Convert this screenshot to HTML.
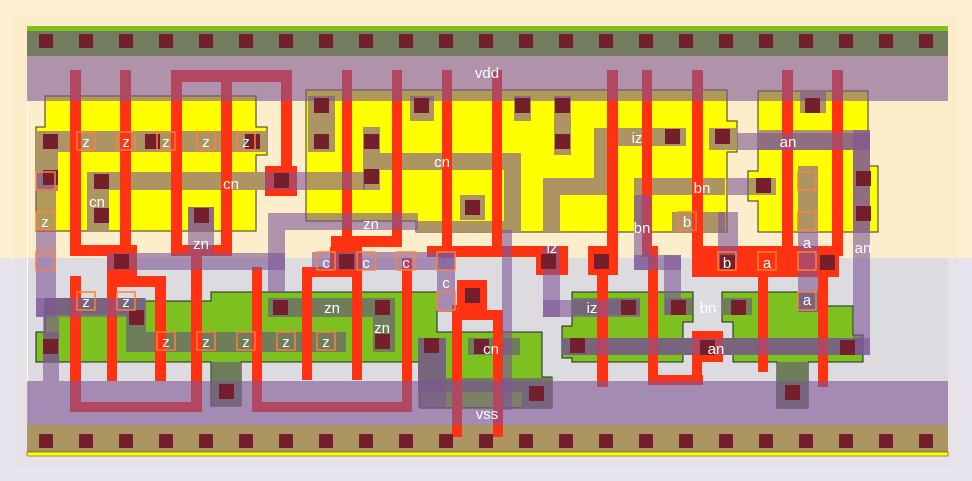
<!DOCTYPE html>
<html><head><meta charset="utf-8"><style>
html,body{margin:0;padding:0;width:972px;height:481px;overflow:hidden;background:#e8e4ee}
svg{display:block}
text{font-family:"Liberation Sans",sans-serif;font-size:15px;fill:#fff}
</style></head><body>
<svg width="972" height="481" viewBox="0 0 972 481" xmlns="http://www.w3.org/2000/svg">
<rect x="0" y="0" width="972" height="258" fill="#fdf0d2"/>
<rect x="14" y="14" width="944" height="244" fill="#fcecc9"/>
<rect x="28" y="28" width="920" height="230" fill="#fdeecb"/>
<rect x="14" y="258" width="944" height="208" fill="#e6e2e6"/>
<rect x="28" y="258" width="920" height="168" fill="#dcdbe0"/>
<line x1="27.5" y1="28" x2="27.5" y2="458" stroke="#fff" stroke-width="1"/>
<rect x="27" y="26" width="921" height="5" fill="#7cc120"/>
<rect x="27" y="31" width="921" height="25" fill="#737c5f"/>
<rect x="27" y="425" width="921" height="27" fill="#ad9563"/>
<rect x="27" y="452" width="921" height="4" fill="#ffff00" stroke="#333" stroke-width="0.5"/>
<g fill="#ffff00" stroke="#333" stroke-width="1">
<polygon points="45,96 256,96 256,127 267,127 267,155 256,155 256,231 36,231 36,127 45,127"/>
<polygon points="306,90 727,90 727,121 737,121 737,152 727,152 727,232 416,232 416,221 306,221"/>
<polygon points="758,91 868,91 868,166 878,166 878,232 758,232 758,201 748,201 748,171 758,171"/>
</g>
<g fill="#7cc120" stroke="#222" stroke-width="1">
<polygon points="36,332 45,332 45,301 211,301 211,292 437,292 437,332 542,332 542,377 552,377 552,408 420,408 420,362 241,362 241,406 211,406 211,362 36,362"/>
<polygon points="572,292 693,292 693,322 683,322 683,362 572,362 572,358 562,358 562,326 572,326"/>
<polygon points="722,292 819,292 819,306 853,306 853,335 863,335 863,362 808,362 808,408 777,408 777,362 733,362 733,322 722,322"/>
</g>
<g fill="#ad9563">
<rect x="36" y="131" width="231" height="21"/>
<rect x="36" y="131" width="22" height="60"/>
<rect x="87" y="172" width="178" height="18"/>
<rect x="87" y="172" width="22" height="59"/>
<rect x="188" y="207" width="26" height="24"/>
<rect x="308" y="96" width="27" height="56"/>
<rect x="363" y="127" width="17" height="63"/>
<rect x="363" y="153" width="158" height="17"/>
<rect x="504" y="153" width="17" height="79"/>
<rect x="460" y="195" width="25" height="25"/>
<rect x="416" y="221" width="88" height="11"/>
<rect x="410" y="96" width="24" height="25"/>
<rect x="514" y="96" width="17" height="25"/>
<rect x="554" y="96" width="17" height="59"/>
<polygon points="543,178 594,178 594,128 686,128 686,146 611,146 611,195 560,195 560,232 543,232"/>
<rect x="634" y="178" width="91" height="17"/>
<rect x="634" y="178" width="17" height="54"/>
<rect x="672" y="212" width="53" height="20"/>
<rect x="709" y="128" width="28" height="22"/>
<rect x="800" y="91" width="26" height="22"/>
<rect x="758" y="130" width="112" height="20"/>
<rect x="853" y="130" width="17" height="102"/>
<rect x="798" y="166" width="20" height="66"/>
</g>
<g fill="#6f7d5a">
<rect x="45" y="298" width="100" height="17"/>
<rect x="43" y="332" width="16" height="30"/>
<rect x="126" y="310" width="20" height="42"/>
<rect x="126" y="332" width="220" height="20"/>
<rect x="268" y="298" width="127" height="19"/>
<rect x="373" y="298" width="22" height="54"/>
<polygon points="418,338 446,338 446,378 552,378 552,408 522,408 522,392 418,392"/>
<rect x="468" y="338" width="52" height="17"/>
<rect x="212" y="362" width="29" height="44"/>
<rect x="572" y="298" width="68" height="17"/>
<rect x="665" y="298" width="27" height="17"/>
<rect x="562" y="338" width="301" height="17"/>
<rect x="722" y="298" width="30" height="17"/>
<rect x="798" y="292" width="20" height="20"/>
<rect x="777" y="362" width="31" height="46"/>
</g>
<g fill="#ff3311">
<rect x="70" y="70" width="11" height="186"/>
<rect x="70" y="245" width="67" height="11"/>
<rect x="120" y="70" width="11" height="186"/>
<rect x="107" y="246" width="30" height="32"/>
<rect x="107" y="276" width="59" height="11"/>
<rect x="107" y="276" width="10" height="105"/>
<rect x="155" y="276" width="11" height="105"/>
<rect x="70" y="276" width="11" height="136"/>
<rect x="70" y="402" width="132" height="10"/>
<rect x="191" y="245" width="11" height="167"/>
<rect x="171" y="70" width="11" height="186"/>
<rect x="221" y="70" width="11" height="186"/>
<rect x="171" y="245" width="61" height="11"/>
<rect x="171" y="70" width="121" height="12"/>
<rect x="281" y="70" width="11" height="98"/>
<rect x="265" y="166" width="32" height="30"/>
<rect x="252" y="267" width="10" height="145"/>
<rect x="252" y="402" width="160" height="10"/>
<rect x="402" y="258" width="10" height="154"/>
<rect x="342" y="70" width="10" height="177"/>
<rect x="392" y="70" width="10" height="177"/>
<rect x="331" y="236" width="71" height="11"/>
<rect x="330" y="247" width="32" height="23"/>
<rect x="302" y="267" width="58" height="10"/>
<rect x="302" y="267" width="10" height="113"/>
<rect x="352" y="267" width="10" height="113"/>
<rect x="442" y="70" width="10" height="188"/>
<rect x="427" y="246" width="118" height="11"/>
<rect x="457" y="280" width="30" height="30"/>
<rect x="452" y="305" width="10" height="132"/>
<rect x="452" y="310" width="51" height="10"/>
<rect x="493" y="310" width="10" height="127"/>
<rect x="492" y="70" width="10" height="187"/>
<rect x="536" y="246" width="32" height="29"/>
<rect x="607" y="70" width="11" height="185"/>
<rect x="588" y="246" width="30" height="29"/>
<rect x="597" y="270" width="11" height="117"/>
<rect x="642" y="70" width="10" height="186"/>
<rect x="642" y="246" width="16" height="11"/>
<rect x="648" y="246" width="10" height="139"/>
<rect x="648" y="375" width="55" height="10"/>
<rect x="692" y="331" width="10" height="54"/>
<rect x="692" y="331" width="31" height="31"/>
<rect x="692" y="70" width="11" height="186"/>
<rect x="692" y="246" width="147" height="31"/>
<rect x="782" y="70" width="11" height="186"/>
<rect x="832" y="70" width="11" height="186"/>
<rect x="758" y="270" width="10" height="102"/>
<rect x="818" y="270" width="10" height="117"/>
</g>
<g fill="rgb(125,85,150)" fill-opacity="0.6">
<rect x="27" y="56" width="921" height="45"/>
<rect x="27" y="381" width="921" height="44"/>
<rect x="265" y="172" width="100" height="18"/>
<rect x="36" y="172" width="20" height="145"/>
<rect x="36" y="298" width="110" height="19"/>
<rect x="43" y="317" width="16" height="64"/>
<rect x="107" y="253" width="178" height="17"/>
<rect x="268" y="213" width="150" height="17"/>
<rect x="268" y="230" width="17" height="62"/>
<rect x="188" y="207" width="26" height="47"/>
<rect x="312" y="252" width="143" height="18"/>
<rect x="437" y="252" width="18" height="60"/>
<rect x="502" y="230" width="10" height="180"/>
<rect x="543" y="246" width="17" height="71"/>
<rect x="543" y="300" width="97" height="17"/>
<rect x="634" y="195" width="17" height="75"/>
<rect x="634" y="255" width="47" height="15"/>
<rect x="664" y="255" width="17" height="60"/>
<rect x="718" y="212" width="20" height="50"/>
<rect x="728" y="178" width="48" height="17"/>
<rect x="737" y="133" width="133" height="17"/>
<rect x="853" y="130" width="17" height="225"/>
<rect x="562" y="338" width="308" height="17"/>
<rect x="798" y="232" width="20" height="80"/>
<rect x="418" y="338" width="28" height="70"/>
</g>
<g fill="#74202c">
<rect x="39" y="34" width="14" height="14"/><rect x="79" y="34" width="14" height="14"/><rect x="119" y="34" width="14" height="14"/><rect x="159" y="34" width="14" height="14"/><rect x="199" y="34" width="14" height="14"/><rect x="239" y="34" width="14" height="14"/><rect x="279" y="34" width="14" height="14"/><rect x="319" y="34" width="14" height="14"/><rect x="359" y="34" width="14" height="14"/><rect x="399" y="34" width="14" height="14"/><rect x="439" y="34" width="14" height="14"/><rect x="479" y="34" width="14" height="14"/><rect x="519" y="34" width="14" height="14"/><rect x="559" y="34" width="14" height="14"/><rect x="599" y="34" width="14" height="14"/><rect x="639" y="34" width="14" height="14"/><rect x="679" y="34" width="14" height="14"/><rect x="719" y="34" width="14" height="14"/><rect x="759" y="34" width="14" height="14"/><rect x="799" y="34" width="14" height="14"/><rect x="839" y="34" width="14" height="14"/><rect x="879" y="34" width="14" height="14"/><rect x="919" y="34" width="14" height="14"/>
<rect x="39" y="434" width="14" height="14"/><rect x="79" y="434" width="14" height="14"/><rect x="119" y="434" width="14" height="14"/><rect x="159" y="434" width="14" height="14"/><rect x="199" y="434" width="14" height="14"/><rect x="239" y="434" width="14" height="14"/><rect x="279" y="434" width="14" height="14"/><rect x="319" y="434" width="14" height="14"/><rect x="359" y="434" width="14" height="14"/><rect x="399" y="434" width="14" height="14"/><rect x="439" y="434" width="14" height="14"/><rect x="479" y="434" width="14" height="14"/><rect x="519" y="434" width="14" height="14"/><rect x="559" y="434" width="14" height="14"/><rect x="599" y="434" width="14" height="14"/><rect x="639" y="434" width="14" height="14"/><rect x="679" y="434" width="14" height="14"/><rect x="719" y="434" width="14" height="14"/><rect x="759" y="434" width="14" height="14"/><rect x="799" y="434" width="14" height="14"/><rect x="839" y="434" width="14" height="14"/><rect x="879" y="434" width="14" height="14"/><rect x="919" y="434" width="14" height="14"/>
<rect x="43" y="134" width="15" height="15"/><rect x="145" y="134" width="15" height="15"/><rect x="245" y="134" width="15" height="15"/>
<rect x="43" y="170" width="15" height="15"/><rect x="94" y="174" width="15" height="15"/><rect x="94" y="208" width="15" height="15"/><rect x="194" y="208" width="15" height="15"/><rect x="274" y="173" width="15" height="15"/>
<rect x="314" y="98" width="15" height="15"/><rect x="314" y="134" width="15" height="15"/><rect x="364" y="134" width="15" height="15"/><rect x="364" y="169" width="15" height="15"/><rect x="414" y="98" width="15" height="15"/><rect x="465" y="200" width="15" height="15"/><rect x="515" y="98" width="15" height="15"/><rect x="555" y="98" width="15" height="15"/><rect x="555" y="134" width="15" height="15"/><rect x="665" y="129" width="15" height="15"/><rect x="715" y="129" width="15" height="15"/><rect x="756" y="178" width="15" height="15"/><rect x="805" y="98" width="15" height="15"/><rect x="856" y="171" width="15" height="15"/><rect x="856" y="206" width="15" height="15"/>
<rect x="114" y="254" width="15" height="15"/><rect x="339" y="254" width="15" height="15"/><rect x="465" y="288" width="15" height="15"/><rect x="541" y="254" width="15" height="15"/><rect x="594" y="254" width="15" height="15"/><rect x="720" y="255" width="15" height="15"/><rect x="820" y="255" width="15" height="15"/>
<rect x="43" y="339" width="15" height="15"/><rect x="129" y="310" width="15" height="15"/><rect x="273" y="300" width="15" height="15"/><rect x="375" y="300" width="15" height="15"/><rect x="375" y="334" width="15" height="15"/><rect x="424" y="338" width="15" height="15"/><rect x="474" y="339" width="15" height="15"/><rect x="529" y="386" width="15" height="15"/><rect x="219" y="384" width="15" height="15"/>
<rect x="621" y="300" width="15" height="15"/><rect x="671" y="300" width="15" height="15"/><rect x="731" y="300" width="15" height="15"/><rect x="570" y="338" width="15" height="15"/><rect x="700" y="340" width="15" height="15"/><rect x="840" y="340" width="15" height="15"/><rect x="785" y="385" width="15" height="15"/>
</g>
<g fill="none" stroke="#ff7f3f" stroke-width="1.5">
<rect x="77" y="132" width="18" height="18"/><rect x="117" y="132" width="18" height="18"/><rect x="157" y="132" width="18" height="18"/><rect x="197" y="132" width="18" height="18"/><rect x="237" y="132" width="18" height="18"/>
<rect x="36" y="172" width="19" height="18"/><rect x="36" y="212" width="19" height="18"/><rect x="36" y="252" width="19" height="18"/>
<rect x="77" y="292" width="18" height="18"/><rect x="117" y="292" width="18" height="18"/>
<rect x="157" y="332" width="18" height="18"/><rect x="197" y="332" width="18" height="18"/><rect x="237" y="332" width="18" height="18"/><rect x="277" y="332" width="18" height="18"/><rect x="317" y="332" width="18" height="18"/>
<rect x="317" y="252" width="18" height="18"/><rect x="357" y="252" width="18" height="18"/><rect x="397" y="252" width="18" height="18"/><rect x="437" y="252" width="18" height="18"/><rect x="437" y="292" width="18" height="18"/>
<rect x="678" y="212" width="18" height="18"/><rect x="718" y="252" width="18" height="18"/><rect x="758" y="252" width="18" height="18"/><rect x="798" y="252" width="18" height="18"/><rect x="798" y="172" width="18" height="18"/><rect x="798" y="212" width="18" height="18"/><rect x="798" y="292" width="18" height="18"/>
</g>
<g text-anchor="middle">
<text x="487" y="78">vdd</text><text x="487" y="419">vss</text>
<text x="86" y="147">z</text><text x="126" y="147">z</text><text x="166" y="147">z</text><text x="206" y="147">z</text><text x="246" y="147">z</text>
<text x="45" y="227">z</text><text x="86" y="307">z</text><text x="126" y="307">z</text>
<text x="166" y="347">z</text><text x="206" y="347">z</text><text x="246" y="347">z</text><text x="286" y="347">z</text><text x="326" y="347">z</text>
<text x="231" y="189">cn</text><text x="97" y="207">cn</text><text x="442" y="167">cn</text><text x="491" y="354">cn</text>
<text x="201" y="249">zn</text><text x="371" y="229">zn</text><text x="332" y="313">zn</text><text x="382" y="333">zn</text>
<text x="326" y="268">c</text><text x="366" y="268">c</text><text x="406" y="268">c</text><text x="446" y="288">c</text>
<text x="637" y="143">iz</text><text x="552" y="253">iz</text><text x="592" y="313">iz</text>
<text x="702" y="193">bn</text><text x="642" y="233">bn</text><text x="708" y="313">bn</text>
<text x="687" y="227">b</text><text x="727" y="268">b</text><text x="767" y="268">a</text><text x="807" y="248">a</text><text x="807" y="305">a</text>
<text x="788" y="147">an</text><text x="863" y="253">an</text><text x="716" y="354">an</text>
</g>
</svg>
</body></html>
